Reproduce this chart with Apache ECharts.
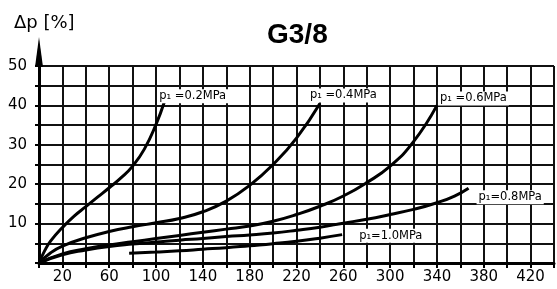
<!DOCTYPE html>
<html>
<head>
<meta charset="utf-8">
<script src="https://cdn.jsdelivr.net/npm/echarts@6/dist/echarts.min.js"></script>
<style>
  html, body { margin: 0; padding: 0; background: #fff; }
  #chart { width: 557px; height: 289px; }
</style>
</head>
<body>
<div id="chart"></div>
<script>
// flow [l/min] vs pressure drop [%], one curve per inlet pressure
const p02 = [[0, 0], [5, 3.2], [10, 5.6], [20, 9], [30, 11.9], [40, 14.3], [50, 16.7], [60, 19.1], [70, 21.6], [80, 24.6], [90, 28.9], [100, 35.2], [107, 40.8]]
const p04 = [[0, 0], [10, 2.6], [20, 4.3], [40, 6.4], [60, 8], [80, 9.2], [100, 10.2], [120, 11.3], [140, 13], [160, 15.7], [180, 19.7], [200, 25], [220, 31.7], [240, 40.5]]
const p06 = [[0, 0], [20, 2.3], [40, 3.6], [60, 4.6], [80, 5.4], [100, 6.2], [120, 7], [140, 7.8], [160, 8.6], [180, 9.4], [200, 10.6], [220, 12.3], [240, 14.4], [260, 17], [280, 20.4], [300, 24.6], [320, 30.8], [340, 40]]
const p08 = [[0, 0], [20, 2.1], [40, 3.3], [60, 4.2], [80, 4.8], [100, 5.3], [120, 5.8], [140, 6.2], [160, 6.7], [180, 7.1], [200, 7.6], [220, 8.3], [240, 9.1], [260, 10.1], [280, 11.1], [300, 12.3], [320, 13.6], [340, 15.3], [355, 17], [367, 19]]
const p10 = [[77, 2.5], [100, 2.8], [120, 3.1], [140, 3.5], [160, 3.9], [180, 4.4], [200, 4.9], [220, 5.5], [240, 6.3], [259, 7.2]]

const curveNames = ['p₁ =0.2MPa', 'p₁ =0.4MPa', 'p₁ =0.6MPa', 'p₁=0.8MPa', 'p₁=1.0MPa']
const xLabels = [20, 60, 100, 140, 180, 220, 260, 300, 340, 380, 420]
const yLabels = [10, 20, 30, 40, 50]

const chart = echarts.init(document.getElementById('chart'))

const makeSeries = (name, data, offset) => ({
  name,
  type: 'line',
  data,
  smooth: 0.5,
  showSymbol: false,
  lineStyle: { color: '#000', width: 3 },
  endLabel: {
    show: true,
    formatter: name,
    distance: 0,
    offset,
    color: '#000',
    fontFamily: 'DejaVu Sans',
    fontSize: 11.5,
    backgroundColor: '#fff',
    padding: [1, 2]
  }
})

const option = {
  animation: false,
  backgroundColor: '#fff',
  title: [
    {
      text: 'G3/8',
      left: 267,
      top: 21,
      padding: 0,
      textStyle: { fontFamily: 'Liberation Sans', fontSize: 28, fontWeight: 'bold', color: '#000' }
    },
    {
      text: 'Δp [%]',
      left: 14,
      top: 14,
      padding: 0,
      textStyle: { fontFamily: 'DejaVu Sans', fontSize: 18, fontWeight: 'normal', color: '#000' }
    }
  ],
  grid: { left: 39, top: 66, width: 524, height: 197 },
  xAxis: {
    type: 'value',
    min: 0,
    max: 440,
    interval: 20,
    axisLine: { lineStyle: { color: '#000', width: 3 } },
    axisTick: { show: true, length: 5, lineStyle: { color: '#000', width: 2 } },
    axisLabel: {
      margin: 7,
      color: '#000',
      fontFamily: 'DejaVu Sans',
      fontSize: 15,
      showMinLabel: true,
      showMaxLabel: true,
      formatter: v => (xLabels.includes(v) ? String(v) : '')
    },
    splitLine: { show: true, lineStyle: { color: '#111', width: 2 } }
  },
  yAxis: {
    type: 'value',
    min: 0,
    max: 50,
    interval: 5,
    axisLine: {
      show: true,
      symbol: ['none', 'triangle'],
      symbolSize: [8, 30],
      symbolOffset: [0, 14],
      lineStyle: { color: '#000', width: 3 }
    },
    axisTick: { show: true, length: 4, lineStyle: { color: '#000', width: 2 } },
    axisLabel: {
      margin: 12,
      color: '#000',
      fontFamily: 'DejaVu Sans',
      fontSize: 15,
      formatter: v => (yLabels.includes(v) ? String(v) : '')
    },
    splitLine: { show: true, lineStyle: { color: '#111', width: 2 } }
  },
  series: [
    makeSeries(curveNames[0], p02, [-7, -6]),
    makeSeries(curveNames[1], p04, [-12, -8]),
    makeSeries(curveNames[2], p06, [1, -7]),
    makeSeries(curveNames[3], p08, [8, 9]),
    makeSeries(curveNames[4], p10, [15, 1])
  ]
}

chart.setOption(option)
</script>
</body>
</html>
